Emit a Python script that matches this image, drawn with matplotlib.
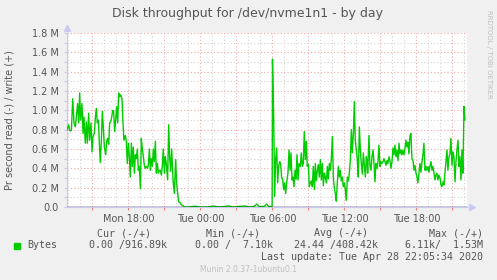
import matplotlib
matplotlib.use("Agg")
import matplotlib.pyplot as plt
from matplotlib.ticker import FixedLocator, MultipleLocator, FuncFormatter

# hours since Mon 00:00, write throughput in MB/s (read series is all zero)
hours = [
    12.88, 13.01, 13.10, 13.24, 13.35, 13.46, 13.57, 13.68, 13.76, 13.85,
    13.93, 14.01, 14.12, 14.21, 14.29, 14.40, 14.49, 14.57, 14.68, 14.76,
    14.88, 14.96, 15.04, 15.15, 15.24, 15.32, 15.40, 15.49, 15.57, 15.65,
    15.74, 15.82, 15.90, 15.99, 16.10, 16.18, 16.26, 16.35, 16.43, 16.51,
    16.60, 16.68, 16.76, 16.85, 16.93, 17.01, 17.10, 17.18, 17.26, 17.35,
    17.46, 17.54, 17.62, 17.74, 17.82, 17.90, 17.99, 18.07, 18.15, 18.24,
    18.32, 18.40, 18.49, 18.57, 18.65, 18.74, 18.82, 18.90, 18.99, 19.07,
    19.15, 19.24, 19.32, 19.40, 19.49, 19.57, 19.65, 19.74, 19.82, 19.90,
    19.99, 20.07, 20.15, 20.24, 20.32, 20.40, 20.49, 20.57, 20.65, 20.74,
    20.82, 20.90, 20.99, 21.07, 21.15, 21.26, 21.35, 21.43, 21.51, 21.60,
    21.71, 21.82, 21.93, 22.01, 22.10, 22.18, 22.29, 22.43, 22.57, 22.71,
    23.00, 23.50, 24.00, 24.60, 25.07, 25.50, 26.00, 26.32, 26.70, 27.20,
    27.71, 28.10, 28.45, 28.68, 28.90, 29.30, 29.51, 29.70, 29.97, 30.00,
    30.10, 30.18, 30.26, 30.35, 30.43, 30.51, 30.60, 30.68, 30.76, 30.85,
    30.93, 31.01, 31.10, 31.18, 31.29, 31.38, 31.46, 31.54, 31.63, 31.71,
    31.79, 31.88, 31.96, 32.04, 32.13, 32.21, 32.32, 32.40, 32.49, 32.57,
    32.65, 32.74, 32.82, 32.90, 32.99, 33.07, 33.15, 33.24, 33.32, 33.40,
    33.49, 33.57, 33.65, 33.74, 33.82, 33.90, 33.99, 34.07, 34.15, 34.24,
    34.32, 34.40, 34.49, 34.57, 34.65, 34.74, 34.82, 34.90, 34.99, 35.07,
    35.15, 35.24, 35.32, 35.40, 35.49, 35.57, 35.65, 35.74, 35.82, 35.90,
    35.99, 36.07, 36.15, 36.24, 36.32, 36.40, 36.49, 36.57, 36.65, 36.74,
    36.82, 36.90, 36.99, 37.07, 37.15, 37.24, 37.32, 37.40, 37.49, 37.57,
    37.65, 37.74, 37.82, 37.90, 37.93, 38.04, 38.12, 38.21, 38.29, 38.38,
    38.46, 38.54, 38.62, 38.71, 38.79, 38.87, 38.96, 39.04, 39.12, 39.21,
    39.29, 39.37, 39.46, 39.54, 39.62, 39.71, 39.79, 39.87, 39.96, 40.04,
    40.12, 40.21, 40.29, 40.37, 40.46, 40.54, 40.62, 40.71, 40.79, 40.87,
    40.96, 41.04, 41.12, 41.21, 41.29, 41.37, 41.46, 41.54, 41.62, 41.71,
    41.79, 41.87, 41.96, 42.04, 42.12, 42.21, 42.29, 42.37, 42.46, 42.54,
    42.62, 42.71, 42.79, 42.87, 42.96, 43.04, 43.12, 43.21, 43.29, 43.37,
    43.46, 43.54, 43.62, 43.71, 43.79, 43.87, 43.96, 44.04, 44.12, 44.21,
    44.29, 44.37, 44.46, 44.54, 44.62, 44.71, 44.79, 44.87, 44.96, 45.04,
    45.12, 45.21, 45.29, 45.37, 45.46, 45.54, 45.62, 45.71, 45.79, 45.87,
    45.96, 46.04,
]
write_mb = [
    0.80, 0.85, 0.79, 0.79, 1.12, 0.87, 0.83, 0.97, 1.07, 0.87,
    1.18, 0.90, 1.07, 0.76, 0.93, 0.66, 0.88, 0.66, 0.97, 0.69,
    0.87, 0.57, 0.73, 0.76, 0.93, 1.02, 0.87, 0.90, 0.66, 0.46,
    0.69, 0.99, 0.83, 0.62, 0.54, 0.68, 0.71, 0.65, 0.87, 0.88,
    0.93, 1.00, 0.99, 0.78, 0.90, 1.04, 0.87, 1.18, 1.14, 1.16,
    1.12, 0.87, 0.69, 0.74, 0.68, 0.45, 0.66, 0.52, 0.31, 0.66,
    0.42, 0.62, 0.35, 0.54, 0.50, 0.60, 0.38, 0.42, 0.19, 0.71,
    0.60, 0.52, 0.43, 0.40, 0.42, 0.40, 0.43, 0.60, 0.38, 0.50,
    0.42, 0.60, 0.47, 0.68, 0.35, 0.45, 0.35, 0.38, 0.38, 0.33,
    0.43, 0.60, 0.35, 0.52, 0.45, 0.28, 0.85, 0.52, 0.37, 0.60,
    0.28, 0.14, 0.49, 0.25, 0.14, 0.055, 0.045, 0.02, 0.01, 0.0,
    0.0, 0.008, 0.0, 0.0, 0.01, 0.0, 0.005, 0.012, 0.0, 0.006,
    0.01, 0.0, 0.005, 0.03, 0.005, 0.005, 0.03, 0.004, 0.005, 1.53,
    0.93, 0.11, 0.49, 0.61, 0.25, 0.42, 0.47, 0.45, 0.31, 0.28,
    0.18, 0.25, 0.14, 0.25, 0.35, 0.59, 0.38, 0.56, 0.28, 0.31,
    0.21, 0.38, 0.29, 0.54, 0.28, 0.45, 0.42, 0.56, 0.42, 0.45,
    0.78, 0.49, 0.68, 0.42, 0.44, 0.21, 0.25, 0.27, 0.21, 0.42,
    0.18, 0.45, 0.27, 0.38, 0.44, 0.31, 0.49, 0.28, 0.45, 0.22,
    0.35, 0.31, 0.25, 0.42, 0.29, 0.45, 0.38, 0.49, 0.73, 0.31,
    0.20, 0.14, 0.06, 0.25, 0.42, 0.31, 0.38, 0.27, 0.31, 0.21,
    0.25, 0.18, 0.07, 0.31, 0.27, 0.34, 0.49, 0.80, 0.56, 0.76,
    1.09, 0.69, 0.59, 0.49, 0.31, 0.83, 0.59, 0.45, 0.34, 0.56,
    0.44, 0.31, 0.52, 0.45, 0.35, 0.74, 0.43, 0.38, 0.52, 0.59,
    0.45, 0.26, 0.45, 0.40, 0.47, 0.64, 0.42, 0.47, 0.45, 0.47,
    0.50, 0.47, 0.43, 0.48, 0.45, 0.52, 0.48, 0.40, 0.47, 0.61,
    0.54, 0.64, 0.52, 0.59, 0.48, 0.66, 0.55, 0.59, 0.54, 0.59,
    0.54, 0.61, 0.69, 0.62, 0.67, 0.55, 0.74, 0.76, 0.50, 0.48,
    0.38, 0.43, 0.35, 0.31, 0.25, 0.36, 0.45, 0.36, 0.47, 0.54,
    0.66, 0.38, 0.42, 0.38, 0.42, 0.36, 0.42, 0.47, 0.38, 0.42,
    0.35, 0.28, 0.33, 0.35, 0.28, 0.33, 0.30, 0.23, 0.21, 0.26,
    0.23, 0.35, 0.47, 0.59, 0.38, 0.52, 0.55, 0.71, 0.43, 0.57,
    0.52, 0.26, 0.47, 0.59, 0.69, 0.42, 0.52, 0.28, 0.59, 0.35,
    1.04, 0.90,
]

tick_hours = [18, 24, 30, 36, 42]
tick_labels = ["Mon 18:00", "Tue 00:00", "Tue 06:00", "Tue 12:00", "Tue 18:00"]

legend_header = ["Cur (-/+)", "Min (-/+)", "Avg (-/+)", "Max (-/+)"]
legend_values = ["0.00 /916.89k", "0.00 /  7.10k", "24.44 /408.42k", "6.11k/  1.53M"]

W, H = 497, 280
bg = "#f0f0f0"
green = "#00cc00"
txt = "#555555"

fig = plt.figure(figsize=(W / 100, H / 100), dpi=100, facecolor=bg)
ax = fig.add_axes([67 / W, 1 - 207 / H, 400 / W, 174 / H])
ax.set_facecolor("white")

ax.set_xlim(12.875, 46.21)
ax.set_ylim(0, 1.8)

# grid: hourly grey, 3-hourly red; 0.1M grey, 0.2M red
ax.xaxis.set_major_locator(FixedLocator(tick_hours))
ax.xaxis.set_minor_locator(MultipleLocator(3))
ax.yaxis.set_major_locator(MultipleLocator(0.2))
ax.yaxis.set_minor_locator(MultipleLocator(0.1))
for h in range(13, 47):
    c = "#f4a8a8" if h % 3 == 0 else "#d4d4d4"
    ax.axvline(h, color=c, lw=0.8, ls=(0, (1, 2)), zorder=1)
for i in range(1, 19):
    c = "#f4a8a8" if i % 2 == 0 else "#d4d4d4"
    ax.axhline(i / 10, color=c, lw=0.8, ls=(0, (1, 2)), zorder=1)

ax.plot(hours, write_mb, color=green, lw=1.0, zorder=3)
ax.axhline(0, color="black", lw=1.0, zorder=4)

ax.set_xticklabels(tick_labels)
ax.yaxis.set_major_formatter(FuncFormatter(lambda v, p: "0.0" if abs(v) < 1e-9 else f"{v:.1f} M"))
ax.tick_params(axis="both", which="both", length=2, width=0.8, labelsize=7, labelcolor=txt)
ax.tick_params(axis="x", which="both", color="#f08080", pad=3)
ax.tick_params(axis="y", which="both", color="#c8c8f0", pad=4)

for s in ["top", "right"]:
    ax.spines[s].set_visible(False)
ax.spines["left"].set_color("#c8c8f0")
ax.spines["bottom"].set_color("#c8c8f0")
ax.spines["left"].set_linewidth(0.8)
ax.spines["bottom"].set_linewidth(0.8)
ax.plot([0], [1.03], marker="^", color="#c8c8f0", ms=4, transform=ax.transAxes, clip_on=False)
ax.plot([1.012], [0], marker=">", color="#c8c8f0", ms=4, transform=ax.transAxes, clip_on=False)

fig.text(248 / W, 1 - 13 / H, "Disk throughput for /dev/nvme1n1 - by day",
         ha="center", va="center", fontsize=9, color=txt)
fig.text(10 / W, 1 - 120 / H, "Pr second read (-) / write (+)", rotation=90,
         ha="center", va="center", fontsize=7, color=txt)
fig.text(489 / W, 1 - 10 / H, "RRDTOOL / TOBI OETIKER", rotation=270,
         ha="center", va="top", fontsize=5, color="#c0c0c0")

mono = "DejaVu Sans Mono"
for i, (hd, val) in enumerate(zip(legend_header, legend_values)):
    xr = [151, 260, 368, 483][i]
    fig.text(xr / W, 1 - 233 / H, hd, ha="right", va="center", family=mono, fontsize=7.2, color=txt)
    fig.text(([167, 273, 378, 483][i]) / W, 1 - 245 / H, val, ha="right", va="center",
             family=mono, fontsize=7.2, color=txt)
fig.patches.append(plt.Rectangle((14 / W, 1 - 249 / H), 6 / W, 6 / H, color=green,
                                 transform=fig.transFigure, figure=fig))
fig.text(27 / W, 1 - 245 / H, "Bytes", ha="left", va="center", family=mono, fontsize=7.2, color=txt)
fig.text(483 / W, 1 - 257 / H, "Last update: Tue Apr 28 22:05:34 2020", ha="right", va="center",
         family=mono, fontsize=7.2, color=txt)
fig.text(248 / W, 1 - 269 / H, "Munin 2.0.37-1ubuntu0.1", ha="center", va="center",
         fontsize=5.5, color="#c0c0c0")

fig.savefig("out.png", dpi=100, facecolor=bg)
